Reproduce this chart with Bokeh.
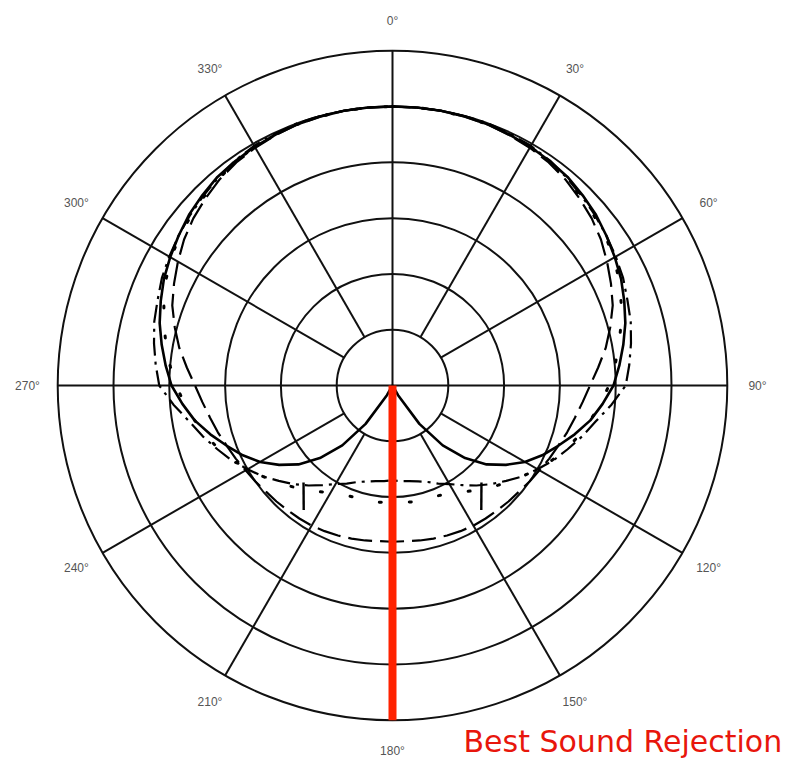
import numpy as np
from bokeh.plotting import figure
from bokeh.models import Range1d
from bokeh.core.properties import value
from bokeh.embed import file_html
from bokeh.resources import INLINE

# ---------------- data ----------------
# angles (deg, clockwise from 0 deg = front); right half, the pattern is mirrored for the left half
angle_deg = [0, 5, 10, 15, 20, 25, 30, 35, 40, 45, 50, 55, 60, 65, 70, 75, 80, 85, 90,
             95, 100, 105, 110, 115, 120, 125, 130, 135, 140, 145, 150, 155, 160, 165, 170, 175, 180]
solid_db = [0, 0, 0, -0.05, -0.1, -0.2, -0.3, -0.45, -0.6, -0.9, -1.2, -1.6, -2.0, -2.4, -2.9, -3.4, -4.0, -4.6, -5.2,
            -6.1, -7.0, -8.1, -9.2, -10.2, -11.3, -12.6, -14.0, -15.8, -18.0, -20.8, -24.0, -25, -25, -25, -25, -25, -25]
dashed_db = [0, 0, 0, -0.05, -0.1, -0.25, -0.4, -0.6, -0.9, -1.3, -1.7, -2.2, -2.8, -3.4, -4.0, -4.8, -5.6, -6.5, -7.3,
             -7.9, -8.4, -8.8, -9.2, -9.5, -9.8, -10.0, -10.2, -10.3, -10.4, -10.45, -10.5, -10.6, -10.7, -10.8, -10.9, -11.0, -11.0]
dashdot_db = [0, 0, 0, 0, 0, -0.1, -0.2, -0.4, -0.7, -1.0, -1.3, -1.6, -1.9, -2.2, -2.6, -2.9, -3.3, -3.7, -4.1,
              -5.3, -6.5, -7.4, -8.3, -9.1, -10.0, -10.8, -11.7, -12.5, -13.3, -14.1, -14.8, -15.3, -15.8, -16.1, -16.3, -16.4, -16.5]
dotted_db = [0, 0, 0, -0.05, -0.1, -0.2, -0.3, -0.5, -0.8, -1.1, -1.4, -1.7, -2.1, -2.6, -3.2, -3.8, -4.4, -5.0, -5.6,
             -6.3, -7.0, -7.7, -8.4, -9.2, -10.0, -10.8, -11.5, -12.2, -12.8, -13.4, -13.9, -14.2, -14.4, -14.4, -14.4, -14.5, -14.5]
# short spurious trace segment on the rear lobe (both sides)
glitch_deg = [137.5, 144.5]
glitch_db = [-13.2, -11.3]

ring_db = [-20, -15, -10, -5, 0, 5]          # grid circles, 5 dB apart, centre = -25 dB
spoke_deg = [30, 60, 120, 150, 210, 240, 300, 330]
tick_deg = [0, 30, 60, 90, 120, 150, 180, 210, 240, 270, 300, 330]
tick_labels = ["0°", "30°", "60°", "90°", "120°", "150°", "180°", "210°", "240°", "270°", "300°", "330°"]
rejection_deg = [180]
annotation = ["Best Sound Rejection"]

# ---------------- polar helpers ----------------
DB_MIN = -25.0
PX_PER_DB = 55.8 / 5.0
R_OUT = (ring_db[-1] - DB_MIN) * PX_PER_DB


def rad(db):
    return np.clip((np.asarray(db, dtype=float) - DB_MIN) * PX_PER_DB, 0, None)


def to_xy(theta_deg, r):
    t = np.radians(np.asarray(theta_deg, dtype=float))
    return r * np.sin(t), r * np.cos(t)


def full_curve(db):
    ang = list(angle_deg) + [360 - a for a in angle_deg[-2::-1]]
    vals = list(db) + list(db[-2::-1])
    return to_xy(ang, rad(vals))


W, H = 794, 758
CX, CY = 392, 385   # centre of the polar grid, in pixels from the top-left
p = figure(width=W, height=H, x_range=Range1d(-CX, W - CX), y_range=Range1d(-(H - CY), CY),
           output_backend="svg", toolbar_location=None, min_border=0,
           x_axis_location=None, y_axis_location=None)
p.grid.visible = False
p.outline_line_color = None
p.background_fill_color = "white"
p.border_fill_color = "white"

GRID = "#111111"
# rings
p.circle(x=[0] * len(ring_db), y=[0] * len(ring_db), radius=list(rad(ring_db)),
         fill_color=None, line_color=GRID, line_width=2)
# spokes
r_in = rad(ring_db[0])
x0, y0 = to_xy(spoke_deg, np.full(len(spoke_deg), r_in))
x1, y1 = to_xy(spoke_deg, np.full(len(spoke_deg), R_OUT))
p.segment(x0=x0, y0=y0, x1=x1, y1=y1, line_color=GRID, line_width=2)
# axes through centre
p.segment(x0=[0, -R_OUT], y0=[R_OUT, 0], x1=[0, R_OUT], y1=[-R_OUT, 0], line_color=GRID, line_width=2)

# response curves
CURVE = "#000000"
xs, ys = full_curve(dashed_db)
p.line(xs, ys, line_color=CURVE, line_width=2.2, line_dash="24 8")
xs, ys = full_curve(dashdot_db)
p.line(xs, ys, line_color=CURVE, line_width=2.2, line_dash="18 6 3 6")
xs, ys = full_curve(dotted_db)
p.line(xs, ys, line_color=CURVE, line_width=3, line_dash="2 28", line_cap="round")
xs, ys = full_curve(solid_db)
p.line(xs, ys, line_color=CURVE, line_width=2.6)
for sgn in (1, -1):
    gx, gy = to_xy([sgn * a for a in glitch_deg], rad(glitch_db))
    p.line(gx, gy, line_color=CURVE, line_width=2.4)

# angle labels
lx, ly = to_xy(tick_deg, np.full(len(tick_deg), 365.0))
p.text(x=lx, y=ly, text=tick_labels, text_align="center", text_baseline="middle",
       text_font=value("Liberation Sans"), text_font_size="12px", text_color="#555555")

# best rejection marker
rx, ry = to_xy(rejection_deg, np.array([R_OUT]))
p.segment(x0=[0], y0=[0], x1=rx, y1=ry, line_color="#ff2200", line_width=8)
p.text(x=[71], y=[-356], text=annotation, text_align="left", text_baseline="alphabetic",
       text_font=value("DejaVu Sans"), text_font_size="30px", text_color="#e8160c")

open("out.html", "w").write(file_html(p, INLINE))
